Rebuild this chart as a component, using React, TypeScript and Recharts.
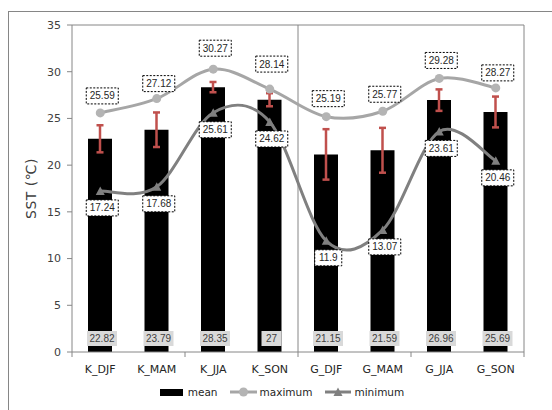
import React from "react";
import {
  ComposedChart, Bar, Line, XAxis, YAxis, ErrorBar, LabelList, Label,
  ReferenceLine, Legend,
} from "recharts";

const SEASONS = ["K_DJF", "K_MAM", "K_JJA", "K_SON", "G_DJF", "G_MAM", "G_JJA", "G_SON"];
const MEAN = [22.82, 23.79, 28.35, 27, 21.15, 21.59, 26.96, 25.69];
const SPREAD = [1.45, 1.85, 0.55, 0.7, 2.7, 2.4, 1.15, 1.65];
const MAXIMUM = [25.59, 27.12, 30.27, 28.14, 25.19, 25.77, 29.28, 28.27];
const MINIMUM = [17.24, 17.68, 25.61, 24.62, 11.9, 13.07, 23.61, 20.46];
const Y_TICKS = [0, 5, 10, 15, 20, 25, 30, 35];

// hand-placed vertical offsets of the maximum tags
const MAX_TAG_DY = [-17, -15, -21, -25, -18, -17, -18, -15];

const rows = SEASONS.map((season, i) => ({
  season,
  mean: MEAN[i],
  err: SPREAD[i],
  max: MAXIMUM[i],
  min: MINIMUM[i],
}));

const AXIS = "#868686";
const TXT = "#404040";
const LABEL_FONT = "'Liberation Sans', Arial, sans-serif";
const CAT_GAP = 13;

// Catmull-Rom style smoothing, close to what spreadsheet "smoothed line" draws
function smoothCurve(context: any) {
  let pts: number[][] = [];
  return {
    areaStart() {},
    areaEnd() {},
    lineStart() { pts = []; },
    lineEnd() {
      if (!pts.length) return;
      context.moveTo(pts[0][0], pts[0][1]);
      for (let i = 0; i < pts.length - 1; i++) {
        const p0 = pts[i - 1] || pts[i];
        const p1 = pts[i];
        const p2 = pts[i + 1];
        const p3 = pts[i + 2] || p2;
        context.bezierCurveTo(
          p1[0] + (p2[0] - p0[0]) / 6, p1[1] + (p2[1] - p0[1]) / 6,
          p2[0] - (p3[0] - p1[0]) / 6, p2[1] - (p3[1] - p1[1]) / 6,
          p2[0], p2[1],
        );
      }
    },
    point(x: number, y: number) { pts.push([x, y]); },
  };
}

// category label plus a tick mark on every second band edge
const CatTick = (p: any) => {
  const { x, y, payload, index, visibleTicksCount } = p;
  const half = payload.offset || 0;
  const axisY = y - CAT_GAP;
  const marks: number[] = [];
  if (index % 2 === 0) marks.push(x - half);
  if (index === visibleTicksCount - 1) marks.push(x + half);
  return (
    <g>
      {marks.map((mx, i) => (
        <line key={i} x1={mx} y1={axisY} x2={mx} y2={axisY + 5} stroke={AXIS} />
      ))}
      <text x={x} y={y} dy="0.71em" textAnchor="middle" fontSize={11} fill="#262626">
        {payload.value}
      </text>
    </g>
  );
};

const MeanTag = (p: any) => {
  const { x, y, width, height, value } = p;
  const cx = x + width / 2 + 2;
  const cy = y + height - 13.5;
  const text = String(value);
  const w = text.length > 2 ? 30 : 20;
  return (
    <g>
      <rect x={cx - w / 2} y={cy - 7.5} width={w} height={15} fill="#d9d9d9" />
      <text x={cx} y={cy + 3.5} textAnchor="middle" fontSize={10} fontFamily={LABEL_FONT} fill={TXT}>
        {text}
      </text>
    </g>
  );
};

const boxTag = (cx: number, cy: number, text: string) => {
  const w = text.length > 4 ? 32 : 27;
  return (
    <g>
      <rect x={cx - w / 2} y={cy - 8} width={w} height={16} fill="#fff"
        stroke="#000" strokeWidth={1} strokeDasharray="2 1.5" />
      <text x={cx} y={cy + 3.5} textAnchor="middle" fontSize={10} fontFamily={LABEL_FONT} fill="#262626">
        {text}
      </text>
    </g>
  );
};

const MaxTag = (p: any) => boxTag(p.x + 2, p.y + MAX_TAG_DY[p.index], String(p.value));
const MinTag = (p: any) => boxTag(p.x + 2, p.y + 17, String(p.value));

const Triangle = (p: any) => {
  const { cx, cy } = p;
  if (cx == null || cy == null) return <g />;
  return <polygon points={`${cx - 4.5},${cy + 4} ${cx + 4.5},${cy + 4} ${cx},${cy - 4.5}`} fill="#7f7f7f" />;
};

const YTitle = (p: any) => {
  const vb = p.viewBox;
  const cx = vb.x - 1;
  const cy = vb.y + vb.height / 2;
  return (
    <text x={cx} y={cy} transform={`rotate(-90 ${cx} ${cy})`} textAnchor="middle"
      dominantBaseline="central" fontSize={14} letterSpacing={0.5} fill={TXT}>
      SST (℃)
    </text>
  );
};

const LegendRow = () => (
  <div style={{ display: "flex", alignItems: "center", justifyContent: "center", paddingLeft: 12,
    fontFamily: "'DejaVu Sans', Verdana, sans-serif", fontSize: 10.5, color: "#262626" }}>
    <span style={{ display: "inline-block", width: 23, height: 7, background: "#000", marginRight: 5 }} />
    <span style={{ marginRight: 12 }}>mean</span>
    <svg width={27} height={10} style={{ marginRight: 3 }}>
      <line x1={0} y1={5} x2={27} y2={5} stroke="#a6a6a6" strokeWidth={3} />
      <circle cx={13.5} cy={5} r={4.5} fill="#b4b4b4" />
    </svg>
    <span style={{ marginRight: 13 }}>maximum</span>
    <svg width={26} height={10} style={{ marginRight: 3 }}>
      <line x1={0} y1={5} x2={26} y2={5} stroke="#808080" strokeWidth={3} />
      <polygon points="8.5,9 17.5,9 13,0.5" fill="#7f7f7f" />
    </svg>
    <span>minimum</span>
  </div>
);

export default function App() {
  return (
    <div style={{ position: "absolute", left: 0, top: 0, width: 552, height: 410, overflow: "hidden", background: "#fff" }}>
      <div style={{ position: "absolute", left: 8, top: 11, width: 560, height: 420, border: `1px solid ${AXIS}` }} />
      <ComposedChart
        width={552}
        height={410}
        data={rows}
        margin={{ top: 25, right: 0, bottom: 28, left: 32 }}
        style={{ position: "absolute", left: 0, top: 0, fontFamily: "'DejaVu Sans', Verdana, sans-serif" }}
      >
        <XAxis xAxisId="cat" dataKey="season" interval={0} height={30} tickLine={false} tickSize={0}
          tickMargin={CAT_GAP} axisLine={{ stroke: AXIS }} tick={CatTick} />
        <YAxis yAxisId="left" domain={[0, 35]} ticks={Y_TICKS} width={40} tickSize={5} tickMargin={6}
          axisLine={{ stroke: AXIS }} tickLine={{ stroke: AXIS }} tick={{ fontSize: 11, fill: TXT }}>
          <Label content={YTitle} />
        </YAxis>
        <YAxis yAxisId="right" orientation="right" domain={[0, 35]} ticks={Y_TICKS} width={28} tickSize={5}
          tickMargin={4} axisLine={{ stroke: AXIS }} tickLine={{ stroke: AXIS }} tick={{ fontSize: 9.5, fill: TXT }} />
        <ReferenceLine xAxisId="cat" yAxisId="left" y={35} stroke={AXIS} />
        <ReferenceLine xAxisId="cat" yAxisId="left" x="G_DJF" position="start" stroke={AXIS} />
        <Bar xAxisId="cat" yAxisId="left" dataKey="mean" fill="#000" barSize={24} isAnimationActive={false}>
          <ErrorBar dataKey="err" direction="y" stroke="#c0504d" strokeWidth={2.5} width={3.5} />
          <LabelList dataKey="mean" content={MeanTag} />
        </Bar>
        <Line xAxisId="cat" yAxisId="left" dataKey="max" type={smoothCurve as any} stroke="#a6a6a6"
          strokeWidth={3} dot={{ r: 4.5, fill: "#b4b4b4", stroke: "none" }} isAnimationActive={false}>
          <LabelList dataKey="max" content={MaxTag} />
        </Line>
        <Line xAxisId="cat" yAxisId="left" dataKey="min" type={smoothCurve as any} stroke="#808080"
          strokeWidth={3} dot={Triangle} isAnimationActive={false}>
          <LabelList dataKey="min" content={MinTag} />
        </Line>
        <Legend verticalAlign="middle" align="center" content={LegendRow}
          wrapperStyle={{ top: 386, left: 0, width: 552 }} />
      </ComposedChart>
    </div>
  );
}
